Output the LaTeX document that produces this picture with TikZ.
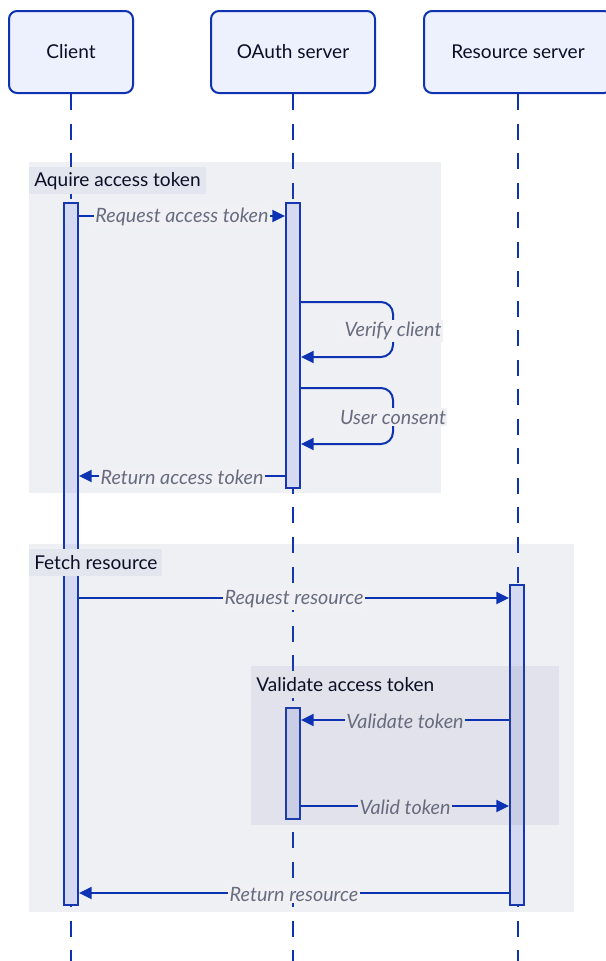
\documentclass[tikz,border=0pt]{standalone}
\usepackage{fontspec}
\setmainfont{Lato}
\usetikzlibrary{fit,arrows.meta}
\definecolor{lineblue}{HTML}{0D32B2}
\definecolor{actfill}{HTML}{EDF0FD}
\definecolor{barfill}{HTML}{E2E7FB}
\definecolor{ovl}{RGB}{100,105,150}
\definecolor{grpbg}{RGB}{240,240,245}
\definecolor{grpbgtwo}{RGB}{226,226,235}
\definecolor{lblbg}{HTML}{E4E6EF}
\definecolor{lblgray}{HTML}{676C7E}
\definecolor{txtdark}{HTML}{0A0F25}
\begin{document}
\begin{tikzpicture}[x=0.75pt,y=-0.75pt,
  font=\fontsize{14.3}{17}\selectfont,
  actor/.style={draw=lineblue, line width=1.5pt, fill=actfill, rounded corners=6pt, inner sep=0pt},
  atext/.style={text=txtdark, inner sep=0pt},
  life/.style={draw=lineblue, line width=1.5pt, dash pattern=on 12pt off 10.15pt},
  bar/.style={draw=lineblue, line width=1.5pt, fill=barfill, inner sep=0pt},
  grp/.style={fill=ovl, fill opacity=0.1, inner sep=0pt, outer sep=0pt},
  glabel/.style={anchor=north west, inner xsep=3.75pt, inner ysep=0pt, minimum height=20.25pt, text=txtdark},
  msg/.style={draw=lineblue, line width=1.5pt, -{Triangle[length=9.5pt,width=9pt]}},
  mlabel/.style={font=\fontsize{14.8}{17}\selectfont\itshape, text=lblgray, inner xsep=1pt, inner ysep=1.5pt, yshift=-0.8pt}
]
\useasboundingbox (0,0) rectangle (606,961);

% actors
\node[actor, fit={(9,11)(133,93)}] (client) {};
\node[actor, fit={(211,11)(375,93)}] (oauth) {};
\node[actor, fit={(424,11)(612,93)}] (res) {};
\node[atext] (clientt) at (client.center) {Client};
\node[atext] (oautht) at (oauth.center) {OAuth server};
\node[atext] (rest) at (518,52) {Resource server};

% lifeline ends
\coordinate (cend) at (71,961);
\coordinate (oend) at (293,961);
\coordinate (rend) at (518,961);
\draw[life] (client.south) -- (client.south |- cend);
\draw[life] (oauth.south) -- (oauth.south |- oend);
\draw[life] (res.south) -- (res.south |- rend);

% activation bars
\node[bar, fit={(64,203)(78,905)}] (cb) {};
\node[bar, fit={(286,203)(300,488)}] (ob1) {};
\node[bar, fit={(510,585)(524,905)}] (rb) {};
\node[bar, fit={(286,708)(300,819)}] (ob2) {};

% groups (translucent overlays)
\node[grp, fit={(29,162)(441,493)}] (g1) {};
\node[grp, fit={(29,544)(574,912)}] (g2) {};
\node[grp, fit={(251,666)(559,825)}] (g3) {};

% group labels
\node[glabel, fill=lblbg] (g1l) at ([yshift=-3.75pt]g1.north west) {Aquire access token};
\node[glabel, fill=lblbg] (g2l) at ([yshift=-3.75pt]g2.north west) {Fetch resource};
\node[glabel, fill=grpbgtwo] (g3l) at ([yshift=-3.75pt]g3.north west) {Validate access token};

% messages
\draw[msg] (cb.east |- 0,216) -- node[mlabel, fill=grpbg] (m1) {Request access token} (ob1.west |- 0,216);

\draw[msg, rounded corners=9pt] (ob1.east |- 0,302) -- (393,302) -- (393,357) -- (ob1.east |- 0,357);
\node[mlabel, fill=grpbg] (m2) at (393,330) {Verify client};

\draw[msg, rounded corners=9pt] (ob1.east |- 0,388) -- (393,388) -- (393,444) -- (ob1.east |- 0,444);
\node[mlabel, fill=grpbg] (m3) at (393,416) {User consent};

\draw[msg] (ob1.west |- 0,476) -- node[mlabel, fill=grpbg] (m4) {Return access token} (cb.east |- 0,476);

\draw[msg] (cb.east |- 0,598) -- node[mlabel, fill=grpbg] (m5) {Request resource} (rb.west |- 0,598);

\draw[msg] (rb.west |- 0,720) -- node[mlabel, fill=grpbgtwo] (m6) {Validate token} (ob2.east |- 0,720);

\draw[msg] (ob2.east |- 0,806) -- node[mlabel, fill=grpbgtwo] (m7) {Valid token} (rb.west |- 0,806);

\draw[msg] (rb.west |- 0,893) -- node[mlabel, fill=grpbg] (m8) {Return resource} (cb.east |- 0,893);
\end{tikzpicture}
\end{document}
